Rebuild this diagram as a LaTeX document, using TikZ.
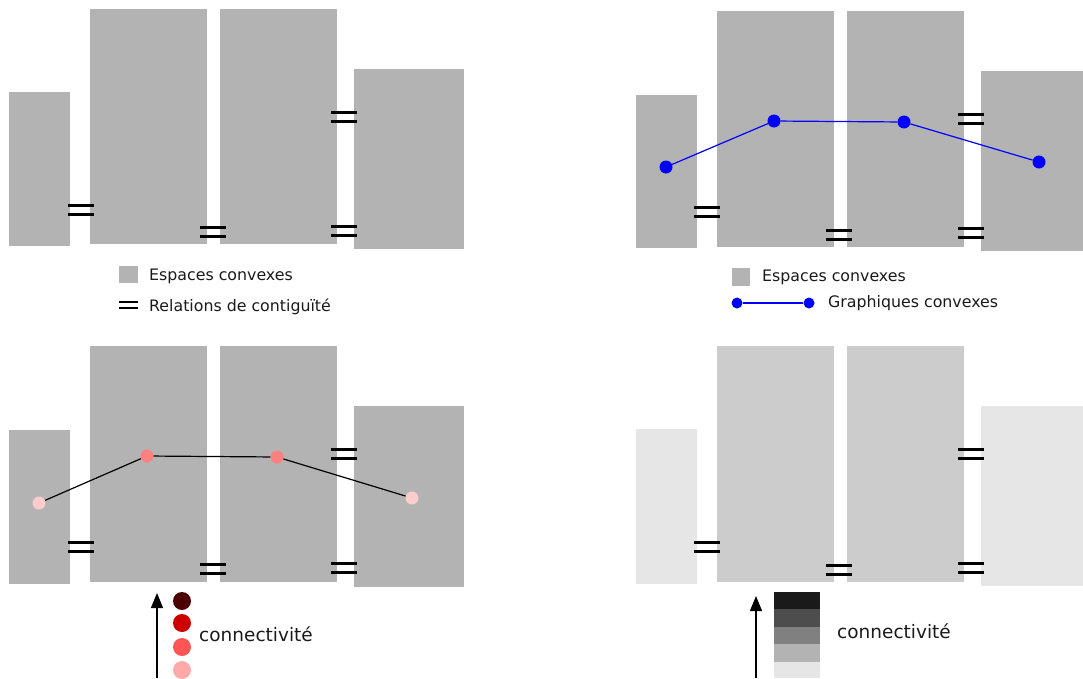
\documentclass[tikz,border=0pt]{standalone}
\usepackage{fontspec}
\setmainfont{DejaVu Sans}
\usetikzlibrary{arrows.meta}
\definecolor{spacegray}{HTML}{B3B3B3}
\definecolor{midgray}{HTML}{CCCCCC}
\definecolor{lightgray}{HTML}{E6E6E6}
\definecolor{pinkend}{HTML}{FFCCCC}
\definecolor{pinkmid}{HTML}{FF8080}
\definecolor{cA}{HTML}{4D0000}
\definecolor{cB}{HTML}{CC0000}
\definecolor{cC}{HTML}{FF5555}
\definecolor{cD}{HTML}{FFAAAA}
\definecolor{gA}{HTML}{1A1A1A}
\definecolor{gB}{HTML}{4D4D4D}
\definecolor{gC}{HTML}{808080}
\definecolor{gD}{HTML}{B3B3B3}
\definecolor{gE}{HTML}{E6E6E6}
\definecolor{txt}{HTML}{1A1A1A}
\tikzset{
  eqline/.style={line width=3pt,black},
  eqsign/.pic={\draw[eqline] (-13,-4.5) -- (13,-4.5); \draw[eqline] (-13,4.5) -- (13,4.5);},
  bdot/.style={circle,fill=blue,inner sep=0pt,minimum size=13pt},
  pdot/.style={circle,inner sep=0pt,minimum size=13pt},
  ldot/.style={circle,inner sep=0pt,minimum size=18pt},
  lbl/.style={inner sep=0pt,anchor=west,text=txt,font=\fontsize{15.8}{18}\selectfont},
  clbl/.style={inner sep=0pt,anchor=west,text=txt,font=\fontsize{18.5}{22}\selectfont},
  bline/.style={blue,line width=1.2pt},
  kline/.style={black,line width=1.2pt},
  uparrow/.style={line width=1.3pt,-{Triangle[length=15pt,width=12pt]}}
}
\begin{document}
\begin{tikzpicture}[x=1pt,y=-1pt]
\useasboundingbox (0,0) rectangle (1083,678);
% ---------- Panel 1 ----------
\fill[spacegray] (9,92) rectangle (70,246);
\fill[spacegray] (90,9) rectangle (207,244);
\fill[spacegray] (220,9) rectangle (337,244);
\fill[spacegray] (354,69) rectangle (464,249);
\pic at (81,210) {eqsign};
\pic at (213,232) {eqsign};
\pic at (344,117) {eqsign};
\pic at (344,231) {eqsign};
\fill[spacegray] (119,266) rectangle (138,283);
\node[lbl] (l1a) at (149,276) {Espaces convexes};
\draw[line width=2.5pt] (119,302) -- (138,302);
\draw[line width=2.5pt] (119,308) -- (138,308);
\node[lbl] (l1b) at (149,307) {Relations de contiguïté};
% ---------- Panel 2 ----------
\fill[spacegray] (636,95) rectangle (697,248);
\fill[spacegray] (717,11) rectangle (834,247);
\fill[spacegray] (847,11) rectangle (964,247);
\fill[spacegray] (981,71) rectangle (1083,251);
\pic at (707,212) {eqsign};
\pic at (839,235) {eqsign};
\pic at (971,119) {eqsign};
\pic at (971,233) {eqsign};
\node[bdot] (b1) at (666,167) {};
\node[bdot] (b2) at (774,121) {};
\node[bdot] (b3) at (904,122) {};
\node[bdot] (b4) at (1039,162) {};
\draw[bline] (b1) -- (b2) -- (b3) -- (b4);
\fill[spacegray] (732,268) rectangle (750,286);
\node[lbl] (l2a) at (762,277) {Espaces convexes};
\node[bdot,minimum size=11pt] (lb1) at (737,303) {};
\node[bdot,minimum size=11pt] (lb2) at (809,303) {};
\draw[bline,line width=1.6pt] (lb1) -- (lb2);
\node[lbl] (l2b) at (828,303) {Graphiques convexes};
% ---------- Panel 3 ----------
\fill[spacegray] (9,430) rectangle (70,584);
\fill[spacegray] (90,346) rectangle (207,582);
\fill[spacegray] (220,346) rectangle (337,582);
\fill[spacegray] (354,406) rectangle (464,587);
\pic at (81,547) {eqsign};
\pic at (213,569) {eqsign};
\pic at (344,454) {eqsign};
\pic at (344,568) {eqsign};
\node[pdot,fill=pinkend] (r1) at (39,503) {};
\node[pdot,fill=pinkmid] (r2) at (147,456) {};
\node[pdot,fill=pinkmid] (r3) at (277,457) {};
\node[pdot,fill=pinkend] (r4) at (412,498) {};
\draw[kline] (r1) -- (r2) -- (r3) -- (r4);
\coordinate (a3s) at (157,678);
\coordinate (a3e) at (157,593);
\draw[uparrow] (a3s) -- (a3e);
\node[ldot,fill=cA] (c1) at (182,601) {};
\node[ldot,fill=cB] (c2) at (182,623) {};
\node[ldot,fill=cC] (c3) at (182,647) {};
\node[ldot,fill=cD] (c4) at (182,670) {};
\node[clbl] (l3) at (199,634) {connectivité};
% ---------- Panel 4 ----------
\fill[lightgray] (636,429) rectangle (697,584);
\fill[midgray] (717,346) rectangle (834,582);
\fill[midgray] (847,346) rectangle (964,582);
\fill[lightgray] (981,406) rectangle (1083,586);
\pic at (707,547) {eqsign};
\pic at (839,570) {eqsign};
\pic at (971,454) {eqsign};
\pic at (971,568) {eqsign};
\coordinate (a4s) at (756,678);
\coordinate (a4e) at (756,596);
\draw[uparrow] (a4s) -- (a4e);
\fill[gA] (774,592) rectangle (820,609);
\fill[gB] (774,609) rectangle (820,627);
\fill[gC] (774,627) rectangle (820,644);
\fill[gD] (774,644) rectangle (820,662);
\fill[gE] (774,662) rectangle (820,678);
\node[clbl] (l4) at (837,631) {connectivité};
\end{tikzpicture}
\end{document}
